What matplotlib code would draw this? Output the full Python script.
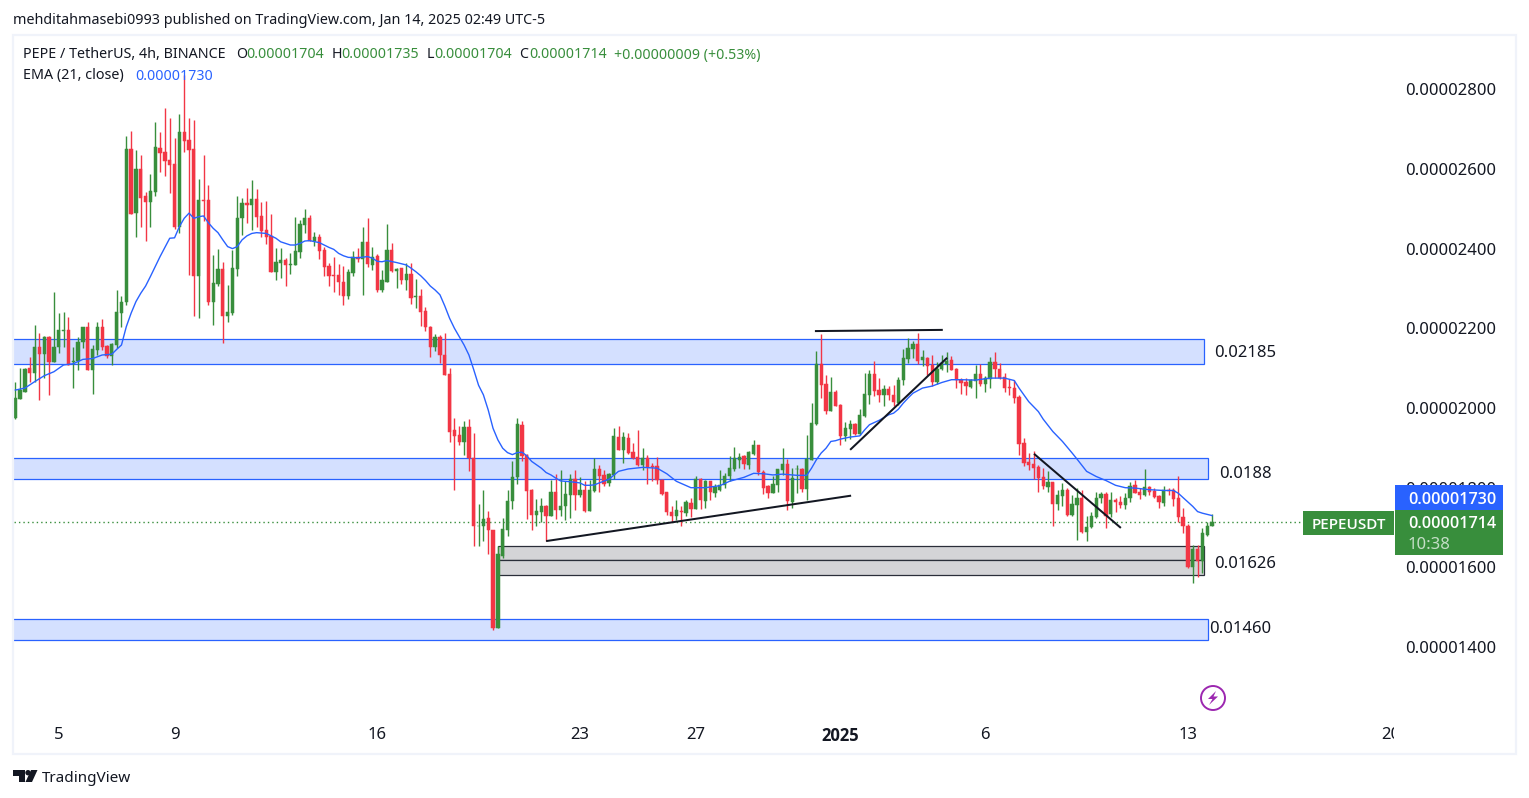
import numpy as np
import matplotlib
matplotlib.use('Agg')
import matplotlib.pyplot as plt
from matplotlib.patches import Rectangle, Circle, Polygon
from matplotlib.transforms import Bbox

# prices are in units of 0.00000001 USDT
opens = [
    1974,2023,2041,2100,2089,2152,2136,2179,2116,2152,
    2194,2196,2116,2117,2166,2203,2096,2146,2203,2156,
    2131,2158,2238,2267,2650,2489,2600,2532,2518,2543,
    2652,2642,2622,2612,2455,2693,2672,2650,2330,2522,
    2522,2267,2311,2349,2231,2238,2349,2476,2514,2510,
    2524,2482,2446,2432,2342,2365,2371,2359,2359,2392,
    2459,2477,2420,2429,2397,2357,2334,2334,2317,2281,
    2340,2378,2374,2416,2359,2382,2296,2317,2397,2345,
    2351,2322,2337,2279,2281,2244,2204,2152,2179,2133,
    2086,1945,1933,1914,1952,1875,1703,1703,1724,1695,
    1447,1629,1695,1767,1826,1958,1883,1793,1732,1740,
    1755,1730,1790,1745,1753,1782,1822,1782,1793,1742,
    1792,1847,1832,1811,1832,1928,1895,1925,1890,1877,
    1856,1875,1855,1855,1820,1788,1739,1729,1741,1736,
    1762,1747,1822,1767,1816,1787,1795,1806,1829,1847,
    1870,1879,1857,1885,1907,1840,1803,1786,1808,1845,
    1860,1765,1846,1847,1797,1870,1960,2111,2060,1993,
    2041,2008,1930,1947,1960,1934,1980,2033,2086,2045,
    2033,2048,2032,2012,2069,2124,2147,2161,2121,2126,
    2108,2065,2097,2111,2120,2098,2071,2065,2052,2068,
    2085,2060,2074,2115,2097,2077,2053,2050,2027,1912,
    1864,1860,1852,1826,1802,1815,1760,1780,1795,1732,
    1757,1775,1689,1701,1726,1774,1785,1734,1769,1765,
    1757,1773,1806,1790,1782,1801,1792,1780,1761,1793,
    1794,1775,1727,1704,1601,1647,1615,1682,1704,
]
highs = [
    2066,2100,2100,2129,2208,2188,2181,2181,2292,2239,
    2242,2228,2154,2179,2204,2217,2158,2217,2223,2158,
    2162,2295,2280,2682,2695,2647,2635,2543,2587,2718,
    2693,2754,2727,2677,2739,2835,2727,2723,2574,2635,
    2560,2384,2399,2367,2309,2397,2532,2526,2551,2572,
    2549,2518,2519,2486,2401,2401,2376,2388,2480,2472,
    2499,2484,2441,2437,2403,2363,2380,2361,2357,2348,
    2393,2401,2454,2476,2403,2387,2347,2462,2413,2351,
    2351,2365,2363,2323,2298,2253,2206,2186,2183,2188,
    2100,1975,1955,1968,1972,1937,1760,1795,1742,1695,
    1654,1724,1795,1866,1975,1968,1884,1797,1771,1774,
    1757,1820,1835,1845,1816,1835,1845,1828,1816,1820,
    1874,1857,1845,1838,1951,1955,1941,1937,1912,1945,
    1899,1882,1863,1878,1821,1790,1755,1770,1755,1768,
    1774,1830,1824,1820,1818,1810,1845,1838,1880,1903,
    1888,1882,1891,1920,1907,1845,1807,1830,1847,1900,
    1872,1849,1857,1849,1933,2012,2143,2186,2083,2079,
    2045,2010,1966,1970,1962,1997,2089,2096,2118,2075,
    2058,2056,2058,2077,2147,2175,2167,2189,2146,2129,
    2133,2116,2133,2140,2131,2100,2076,2075,2072,2108,
    2110,2081,2127,2140,2112,2087,2072,2071,2033,1924,
    1887,1891,1857,1849,1842,1815,1795,1811,1799,1782,
    1799,1795,1728,1740,1788,1788,1788,1790,1774,1778,
    1786,1814,1820,1799,1846,1805,1799,1782,1803,1799,
    1799,1830,1749,1709,1657,1657,1698,1715,1735,
]
lows = [
    1972,2023,2041,2066,2066,2020,2075,2033,2116,2137,
    2154,2108,2050,2096,2150,2096,2035,2133,2146,2125,
    2108,2150,2204,2259,2487,2430,2455,2419,2455,2532,
    2591,2582,2540,2448,2438,2643,2334,2231,2227,2468,
    2259,2208,2305,2164,2217,2234,2330,2434,2465,2447,
    2455,2430,2412,2342,2321,2325,2306,2336,2359,2377,
    2438,2418,2407,2373,2332,2305,2292,2284,2259,2274,
    2330,2367,2284,2355,2347,2292,2292,2317,2342,2302,
    2311,2295,2261,2252,2206,2194,2127,2144,2114,2083,
    1914,1795,1908,1883,1843,1654,1654,1665,1634,1442,
    1447,1623,1678,1747,1810,1868,1722,1695,1705,1713,
    1665,1730,1722,1728,1720,1724,1745,1776,1739,1742,
    1790,1790,1803,1803,1821,1895,1863,1884,1872,1855,
    1845,1810,1816,1810,1782,1732,1715,1719,1704,1728,
    1726,1747,1746,1749,1770,1776,1791,1799,1816,1841,
    1849,1846,1846,1882,1832,1785,1775,1786,1788,1832,
    1744,1749,1786,1790,1770,1870,1958,2025,1985,1993,
    2005,1907,1918,1922,1933,1933,1977,2010,2030,2016,
    2004,2020,2005,2008,2058,2114,2125,2110,2106,2083,
    2055,2060,2096,2091,2096,2051,2035,2033,2050,2026,
    2054,2041,2050,2075,2072,2039,2033,2012,1882,1855,
    1845,1821,1790,1796,1790,1703,1743,1755,1730,1728,
    1668,1686,1665,1698,1724,1761,1700,1726,1738,1749,
    1747,1765,1786,1771,1778,1782,1774,1750,1755,1782,
    1755,1715,1686,1598,1562,1577,1586,1679,1704,
]
closes = [
    2025,2045,2098,2089,2152,2136,2179,2116,2152,2196,
    2196,2108,2118,2166,2203,2096,2148,2203,2152,2131,
    2161,2241,2267,2650,2487,2600,2528,2518,2545,2654,
    2641,2621,2611,2453,2693,2671,2647,2330,2522,2519,
    2267,2313,2348,2231,2240,2351,2476,2514,2510,2524,
    2480,2444,2430,2342,2366,2371,2359,2361,2393,2462,
    2477,2420,2430,2395,2355,2332,2332,2315,2281,2342,
    2378,2373,2416,2362,2380,2296,2320,2397,2344,2349,
    2322,2337,2276,2281,2242,2203,2152,2178,2132,2083,
    1941,1930,1914,1952,1875,1703,1705,1722,1693,1448,
    1634,1697,1767,1827,1960,1880,1791,1732,1742,1755,
    1730,1790,1745,1755,1785,1822,1782,1793,1742,1795,
    1847,1830,1810,1835,1930,1895,1928,1887,1874,1856,
    1874,1851,1851,1820,1785,1738,1728,1743,1738,1763,
    1746,1822,1768,1818,1789,1801,1807,1830,1850,1874,
    1877,1859,1890,1907,1839,1800,1787,1810,1847,1860,
    1767,1824,1847,1797,1873,1963,2111,2058,1993,2041,
    2005,1930,1951,1960,1935,1983,2035,2086,2043,2033,
    2048,2033,2014,2071,2126,2151,2161,2119,2127,2106,
    2066,2097,2112,2117,2096,2069,2063,2054,2071,2085,
    2061,2076,2115,2099,2075,2050,2049,2026,1910,1862,
    1857,1850,1825,1803,1815,1760,1782,1795,1732,1760,
    1775,1688,1701,1729,1775,1784,1728,1769,1763,1757,
    1775,1804,1787,1782,1801,1789,1777,1763,1793,1791,
    1772,1726,1705,1601,1647,1615,1686,1704,1714,
]

# EMA(21) at these bars
ema_bars = [
    1,3,5,7,9,11,13,15,17,19,21,22,23,24,25,26,27,28,29,31,33,34,35,36,37,38,39,40,
    41,42,43,44,45,46,47,48,49,50,51,53,54,55,56,57,58,59,60,61,62,64,66,67,68,69,70,
    72,74,75,76,77,78,80,82,83,84,85,86,87,88,89,90,91,92,93,94,95,96,97,98,99,100,
    101,102,103,104,105,106,107,108,110,111,112,113,114,116,118,119,120,121,122,124,
    126,128,131,134,136,138,141,144,147,149,152,154,156,158,160,163,165,166,167,168,
    169,170,171,172,174,176,177,178,180,182,183,184,185,186,187,189,191,193,195,197,
    200,203,206,208,209,211,213,214,216,218,220,221,223,225,227,229,231,233,236,239,
    241,242,243,244,245,246,247,249,
]
ema_values = [
    2045,2050,2066,2081,2091,2108,2111,2122,2124,2133,2135,2147,2158,2204,2238,2267,2288,2306,2330,2380,2426,2427,2455,2476,2489,2476,2480,2482,
    2465,2451,2440,2422,2405,2400,2405,2422,2432,2438,2440,2438,2432,2426,2417,2413,2409,2409,2413,2419,2420,2415,2403,2398,2388,2382,2378,
    2377,2380,2376,2368,2367,2370,2365,2359,2351,2342,2332,2320,2306,2296,2284,2256,2225,2200,2179,2158,2133,2096,2057,2033,1995,1949,
    1920,1899,1888,1883,1888,1889,1880,1866,1849,1838,1832,1824,1817,1815,1812,1806,1806,1807,1812,1821,
    1841,1847,1851,1849,1835,1816,1800,1800,1805,1816,1826,1836,1835,1832,1834,1831,1831,1849,1870,1887,
    1899,1916,1918,1922,1927,1930,1945,1958,1969,1983,1987,1997,2012,2025,2037,2050,2055,2064,2071,2071,
    2070,2075,2075,2069,2050,2016,1991,1972,1941,1916,1887,1872,1841,1828,1818,1806,1800,1799,1795,1793,
    1793,1786,1775,1764,1753,1740,1736,1730,
]

y_ticks = [1400, 1600, 1800, 2000, 2200, 2400, 2600, 2800]
x_ticks = [10, 34, 76, 118, 142, 172, 202, 244, 286]
x_labels = ['5', '9', '16', '23', '27', '2025', '6', '13', '20']

# zones: first bar, last bar, bottom price, top price
blue_zones = [(0, 247.3, 2110, 2173), (0, 248.1, 1822, 1875), (0, 248.1, 1418, 1471)]
grey_zones = [(101, 247.3, 1618, 1654), (101, 247.3, 1581, 1618)]
# trend lines: bar, price, bar, price
trend_lines = [
    (111.0, 1666, 174.2, 1780),
    (166.7, 2193, 193.2, 2196),
    (174.0, 1895, 194.1, 2126),
    (212.1, 1885, 230.1, 1699),
]
zone_labels = [(249.4, 2137, '0.02185'), (250.4, 1835, '0.0188'), (249.4, 1608, '0.01626'), (248.4, 1446, '0.01460')]
last_price = 1714

GREEN = '#388E3C'
RED = '#F23645'
BLUE = '#2962FF'
INK = '#131722'
BOLD_FONT = ['Open Sans', 'DejaVu Sans']
W, H = 1529, 798

plt.rcParams['font.family'] = ['Noto Sans', 'DejaVu Sans']
fig = plt.figure(figsize=(W / 100, H / 100), dpi=100, facecolor='white')

# price pane
ax = fig.add_axes([14 / W, 1 - 722 / H, (1394 - 14) / W, (722 - 36) / H])
ax.set_xlim(0.73, 286.7)
ax.set_ylim(1212, 2933.5)
for s in ax.spines.values():
    s.set_visible(False)

for x0, x1, lo, hi in blue_zones:
    ax.add_patch(Rectangle((x0, lo), x1 - x0, hi - lo, fc='#D4E0FF', ec=BLUE, lw=0.9, zorder=1))
for x0, x1, lo, hi in grey_zones:
    ax.add_patch(Rectangle((x0, lo), x1 - x0, hi - lo, fc='#D4D4D7', ec='#2A2E39', lw=0.9, zorder=1))

ax.plot([0.73, 286.7], [last_price, last_price], color=GREEN, lw=1.0, ls=(0, (1, 2.2)), zorder=2)

bars = np.arange(1, len(opens) + 1)
o, h, l, c = map(np.array, (opens, highs, lows, closes))
colors = [GREEN if b >= a else RED for a, b in zip(o, c)]
ax.vlines(bars, l, h, colors=colors, lw=1.0, zorder=3)
ax.bar(bars, np.abs(c - o), bottom=np.minimum(o, c), width=0.68, color=colors, edgecolor=colors, lw=0.35, zorder=4)
ax.plot(ema_bars, ema_values, color=BLUE, lw=1.0, zorder=5)

for x0, p0, x1, p1 in trend_lines:
    ax.plot([x0, x1], [p0, p1], color=INK, lw=1.45, solid_capstyle='butt', zorder=6)
for x, p, txt in zone_labels:
    ax.text(x, p, txt, fontsize=12, color=INK, va='center', ha='left', zorder=6)

ax.yaxis.tick_right()
ax.set_yticks(y_ticks)
ax.set_yticklabels([f'{v * 1e-8:.8f}' for v in y_ticks], fontsize=12, color=INK)
ax.set_xticks(x_ticks)
ax.set_xticklabels(x_labels, fontsize=12, color=INK)
ax.tick_params(axis='both', length=0)
ax.tick_params(axis='y', pad=7.8)
ax.tick_params(axis='x', pad=3.6)
year_lbl = ax.get_xticklabels()[5]
year_lbl.set_family(BOLD_FONT)
year_lbl.set_fontweight('bold')
last_lbl = ax.get_xticklabels()[-1]
last_lbl.set_clip_on(True)
last_lbl.set_clip_box(Bbox([[0, 0], [1394, H]]))

# page furniture, in pixels
ui = fig.add_axes([0, 0, 1, 1], facecolor='none')
ui.set_xlim(0, W)
ui.set_ylim(H, 0)
ui.axis('off')
ui.add_patch(Rectangle((13, 35), 1503, 719, fc='none', ec='#F0F3FA', lw=1.6))

ui.text(13, 21, 'mehditahmasebi0993 published on TradingView.com, Jan 14, 2025 02:49 UTC-5',
        fontsize=10.32, color=INK, va='center')
ui.text(23, 55, 'PEPE / TetherUS, 4h, BINANCE', fontsize=10.3, color=INK, va='center')
for x, txt, col in [(236, 'O', INK), (246, '0.00001704', GREEN), (332, 'H', INK), (341, '0.00001735', GREEN),
                    (427, 'L', INK), (434, '0.00001704', GREEN), (519, 'C', INK), (529, '0.00001714', GREEN),
                    (614, '+0.00000009 (+0.53%)', GREEN)]:
    ui.text(x, 55, txt, fontsize=10.2, color=col, va='center')
ui.text(23, 76, 'EMA (21, close)', fontsize=10.3, color=INK, va='center')
ui.text(135, 76, '0.00001730', fontsize=10.2, color=BLUE, va='center')

# symbol and price tags
ui.add_patch(Rectangle((1303, 511), 91, 24, fc=GREEN, ec='none'))
ui.text(1348.5, 525, 'PEPEUSDT', fontsize=11, color='white', ha='center', va='center',
        family=BOLD_FONT, fontweight='semibold')
ui.add_patch(Rectangle((1395, 485), 108, 25, fc=BLUE, ec='none'))
ui.text(1452, 500, '0.00001730', fontsize=11.6, color='white', ha='center', va='center',
        family=BOLD_FONT, fontweight='semibold')
ui.add_patch(Rectangle((1395, 510), 108, 45, fc=GREEN, ec='none'))
ui.text(1452, 524, '0.00001714', fontsize=11.6, color='white', ha='center', va='center',
        family=BOLD_FONT, fontweight='semibold')
ui.text(1408, 545, '10:38', fontsize=12, color='#C5DEC7', ha='left', va='center')

# lightning badge
ui.add_patch(Circle((1213, 698), 12, fc='white', ec='#9C27B0', lw=1.4))
ui.add_patch(Polygon([(1216, 691), (1208, 699), (1212.5, 699), (1209, 705), (1218, 696.5), (1213.5, 696.5)],
                     fc='#9C27B0', ec='none'))

# TradingView logo
ui.add_patch(Polygon([(13, 770), (25, 770), (25, 782), (19, 782), (19, 775.5), (13, 775.5)], fc=INK, ec='none'))
ui.add_patch(Circle((28, 772.7), 2.7, fc=INK, ec='none'))
ui.add_patch(Polygon([(31, 770), (37.5, 770), (32, 782), (25.5, 782)], fc=INK, ec='none'))
ui.text(42, 778, 'TradingView', fontsize=11, color=INK, va='center')

fig.savefig('out.png', dpi=100)
